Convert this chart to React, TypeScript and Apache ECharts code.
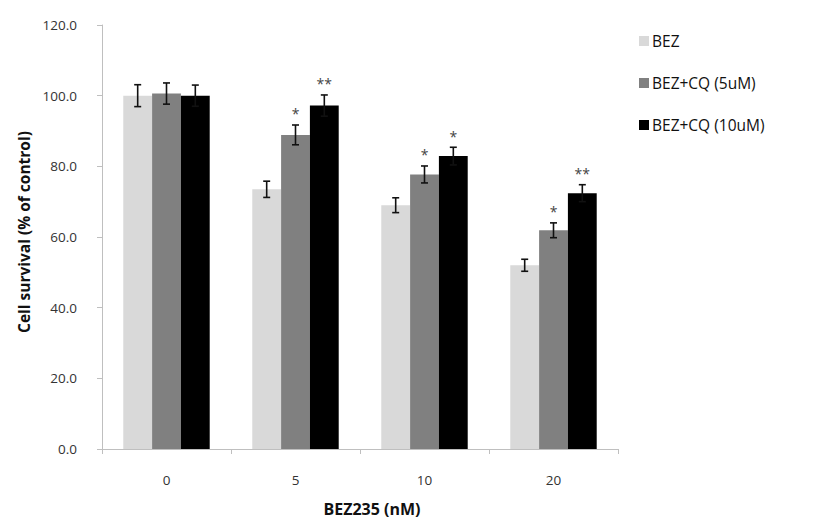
import React, { useEffect, useRef } from "react";
import * as echarts from "echarts";

const categories = ["0", "5", "10", "20"];
const seriesNames = ["BEZ", "BEZ+CQ (5uM)", "BEZ+CQ (10uM)"];
const bezValues = [100.0, 73.5, 69.0, 52.0];
const cq5Values = [100.6, 88.9, 77.7, 61.9];
const cq10Values = [100.0, 97.2, 82.9, 72.4];
const bezErrors = [3.1, 2.3, 2.1, 1.7];
const cq5Errors = [3.0, 2.8, 2.4, 2.1];
const cq10Errors = [3.0, 3.0, 2.5, 2.4];
const bezSig = ["", "", "", ""];
const cq5Sig = ["", "*", "*", "*"];
const cq10Sig = ["", "**", "*", "**"];
const yTicks = [0, 20, 40, 60, 80, 100, 120];

const colors = ["#d9d9d9", "#808080", "#000000"];
const FONT = "'Open Sans', 'Noto Sans', sans-serif";

export default function App() {
  const ref = useRef<HTMLDivElement>(null);
  useEffect(() => {
    document.body.style.margin = "0";
    const chart = echarts.init(ref.current!, null, { renderer: "svg" });
    const values = [bezValues, cq5Values, cq10Values];
    const errors = [bezErrors, cq5Errors, cq10Errors];
    const sigs = [bezSig, cq5Sig, cq10Sig];
    const gapFrac = 0.33;

    const barSeries = values.map((v, i) => ({
      name: seriesNames[i],
      type: "bar",
      data: v,
      barGap: "0%",
      barCategoryGap: "33%",
      itemStyle: { color: colors[i] },
    }));

    const errSeries = values.map((v, i) => ({
      name: seriesNames[i] + " err",
      type: "custom",
      data: v.map((val, k) => [k, val, errors[i][k]]),
      z: 10,
      renderItem: (params: any, api: any) => {
        const k = api.value(0);
        const val = api.value(1);
        const e = api.value(2);
        const sig = sigs[i][k];
        const bw = api.size([1, 0])[0];
        const barW = (bw * (1 - gapFrac)) / 3;
        const center = api.coord([k, val]);
        const x = center[0] + (i - 1) * barW;
        const top = api.coord([k, val + e])[1];
        const bot = api.coord([k, val - e])[1];
        const cap = 3.5;
        const style = { stroke: "#111", lineWidth: 1.6 };
        const children: any[] = [
          { type: "line", shape: { x1: x, y1: top, x2: x, y2: bot }, style },
          { type: "line", shape: { x1: x - cap, y1: top, x2: x + cap, y2: top }, style },
          { type: "line", shape: { x1: x - cap, y1: bot, x2: x + cap, y2: bot }, style },
        ];
        if (sig) {
          children.push({
            type: "text",
            x,
            y: top - 4,
            style: {
              text: sig,
              fill: "#444",
              font: `14px ${FONT}`,
              align: "center",
              verticalAlign: "bottom",
            },
          });
        }
        return { type: "group", children };
      },
    }));

    chart.setOption({
      animation: false,
      backgroundColor: "#ffffff",
      textStyle: { fontFamily: FONT },
      grid: { left: 102, top: 25, right: 209, bottom: 80, containLabel: false },
      legend: {
        data: seriesNames,
        orient: "vertical",
        left: 634,
        top: 28,
        itemGap: 26,
        itemWidth: 10,
        itemHeight: 10,
        icon: "rect",
        selectedMode: false,
        textStyle: { fontSize: 15.5, color: "#111", fontFamily: FONT, padding: [2, 0, 0, -2] },
      },
      xAxis: {
        type: "category",
        data: categories,
        name: "BEZ235 (nM)",
        nameLocation: "middle",
        nameGap: 52,
        nameTextStyle: { fontSize: 16, fontWeight: "bold", color: "#111", fontFamily: FONT, padding: [0, 0, 0, 24] },
        axisLine: { lineStyle: { color: "#bfbfbf", width: 1 } },
        axisTick: { show: true, length: 5, lineStyle: { color: "#bfbfbf" } },
        axisLabel: { fontSize: 13.5, color: "#333", margin: 24, fontFamily: FONT },
      },
      yAxis: {
        type: "value",
        min: yTicks[0],
        max: yTicks[yTicks.length - 1],
        interval: 20,
        name: "Cell survival (% of control)",
        nameLocation: "middle",
        nameGap: 68,
        nameRotate: 90,
        nameTextStyle: { fontSize: 15.5, fontWeight: "bold", color: "#111", fontFamily: FONT, padding: [0, 0, 0, 10] },
        axisLine: { show: true, lineStyle: { color: "#bfbfbf", width: 1 } },
        axisTick: { show: true, length: 5, lineStyle: { color: "#bfbfbf" } },
        splitLine: { show: false },
        axisLabel: {
          fontSize: 13.5,
          color: "#333",
          margin: 25,
          fontFamily: FONT,
          formatter: (v: number) => v.toFixed(1),
        },
      },
      series: [...barSeries, ...errSeries],
    });
    return () => chart.dispose();
  }, []);
  return <div ref={ref} style={{ width: 827, height: 529 }} />;
}
